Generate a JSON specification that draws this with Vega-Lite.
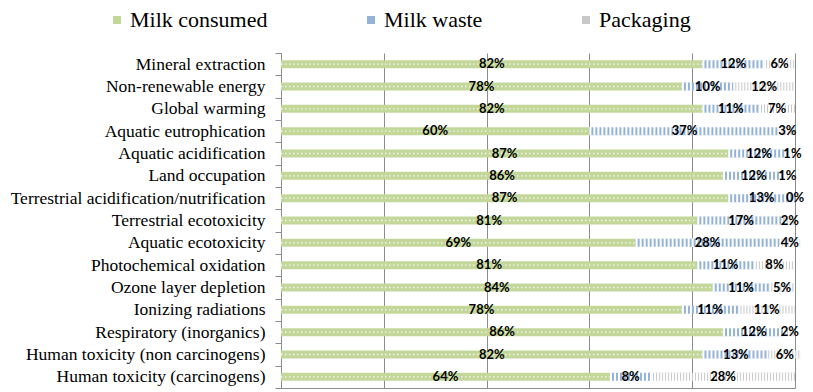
{
  "$schema": "https://vega.github.io/schema/vega-lite/v6.json",
  "width": 514,
  "height": 335,
  "autosize": "none",
  "padding": {"left": 281, "top": 53, "right": 18, "bottom": 4},
  "background": "white",
  "config": {"view": {"stroke": null}, "font": "Liberation Serif"},
  "data": {
    "values": [
      {"category": "Mineral extraction", "part": "Milk consumed", "value": 82},
      {"category": "Mineral extraction", "part": "Milk waste", "value": 12},
      {"category": "Mineral extraction", "part": "Packaging", "value": 6},
      {"category": "Non-renewable energy", "part": "Milk consumed", "value": 78},
      {"category": "Non-renewable energy", "part": "Milk waste", "value": 10},
      {"category": "Non-renewable energy", "part": "Packaging", "value": 12},
      {"category": "Global warming", "part": "Milk consumed", "value": 82},
      {"category": "Global warming", "part": "Milk waste", "value": 11},
      {"category": "Global warming", "part": "Packaging", "value": 7},
      {"category": "Aquatic eutrophication", "part": "Milk consumed", "value": 60},
      {"category": "Aquatic eutrophication", "part": "Milk waste", "value": 37},
      {"category": "Aquatic eutrophication", "part": "Packaging", "value": 3},
      {"category": "Aquatic acidification", "part": "Milk consumed", "value": 87},
      {"category": "Aquatic acidification", "part": "Milk waste", "value": 12},
      {"category": "Aquatic acidification", "part": "Packaging", "value": 1},
      {"category": "Land occupation", "part": "Milk consumed", "value": 86},
      {"category": "Land occupation", "part": "Milk waste", "value": 12},
      {"category": "Land occupation", "part": "Packaging", "value": 1},
      {"category": "Terrestrial acidification/nutrification", "part": "Milk consumed", "value": 87},
      {"category": "Terrestrial acidification/nutrification", "part": "Milk waste", "value": 13},
      {"category": "Terrestrial acidification/nutrification", "part": "Packaging", "value": 0},
      {"category": "Terrestrial ecotoxicity", "part": "Milk consumed", "value": 81},
      {"category": "Terrestrial ecotoxicity", "part": "Milk waste", "value": 17},
      {"category": "Terrestrial ecotoxicity", "part": "Packaging", "value": 2},
      {"category": "Aquatic ecotoxicity", "part": "Milk consumed", "value": 69},
      {"category": "Aquatic ecotoxicity", "part": "Milk waste", "value": 28},
      {"category": "Aquatic ecotoxicity", "part": "Packaging", "value": 4},
      {"category": "Photochemical oxidation", "part": "Milk consumed", "value": 81},
      {"category": "Photochemical oxidation", "part": "Milk waste", "value": 11},
      {"category": "Photochemical oxidation", "part": "Packaging", "value": 8},
      {"category": "Ozone layer depletion", "part": "Milk consumed", "value": 84},
      {"category": "Ozone layer depletion", "part": "Milk waste", "value": 11},
      {"category": "Ozone layer depletion", "part": "Packaging", "value": 5},
      {"category": "Ionizing radiations", "part": "Milk consumed", "value": 78},
      {"category": "Ionizing radiations", "part": "Milk waste", "value": 11},
      {"category": "Ionizing radiations", "part": "Packaging", "value": 11},
      {"category": "Respiratory (inorganics)", "part": "Milk consumed", "value": 86},
      {"category": "Respiratory (inorganics)", "part": "Milk waste", "value": 12},
      {"category": "Respiratory (inorganics)", "part": "Packaging", "value": 2},
      {"category": "Human toxicity (non carcinogens)", "part": "Milk consumed", "value": 82},
      {"category": "Human toxicity (non carcinogens)", "part": "Milk waste", "value": 13},
      {"category": "Human toxicity (non carcinogens)", "part": "Packaging", "value": 6},
      {"category": "Human toxicity (carcinogens)", "part": "Milk consumed", "value": 64},
      {"category": "Human toxicity (carcinogens)", "part": "Milk waste", "value": 8},
      {"category": "Human toxicity (carcinogens)", "part": "Packaging", "value": 28}
    ]
  },
  "transform": [
    {"stack": "value", "groupby": ["category"], "sort": [{"field": "part", "order": "ascending"}], "as": ["x0", "x1"]},
    {"calculate": "(datum.x0 + datum.x1) / 2", "as": "mid"},
    {"calculate": "datum.value + '%'", "as": "label"}
  ],
  "encoding": {
    "y": {
      "field": "category",
      "type": "nominal",
      "sort": null,
      "scale": {"paddingInner": 0, "paddingOuter": 0},
      "axis": {
        "title": null,
        "labelFont": "Liberation Serif",
        "labelFontSize": 17.5,
        "labelColor": "black",
        "labelPadding": 10,
        "labelLimit": 400,
        "tickBand": "extent",
        "tickSize": 6,
        "tickColor": "#8c8c8c",
        "domainColor": "#8c8c8c",
        "grid": false
      }
    }
  },
  "layer": [
    {
      "mark": {"type": "bar", "height": {"band": 0.36}},
      "encoding": {
        "x": {
          "field": "x0",
          "type": "quantitative",
          "scale": {"domain": [0, 100], "nice": false},
          "axis": {
            "title": null,
            "labels": false,
            "ticks": false,
            "grid": true,
            "values": [0, 20, 40, 60, 80, 100],
            "gridColor": "#8c8c8c",
            "domainColor": "#8c8c8c"
          }
        },
        "x2": {"field": "x1"},
        "color": {
          "field": "part",
          "type": "nominal",
          "scale": {
            "domain": ["Milk consumed", "Milk waste", "Packaging"],
            "range": ["#c4d79b", "#95b3d7", "#c8c8c8"]
          },
          "legend": {
            "title": null,
            "orient": "none",
            "legendX": -175,
            "legendY": -44,
            "direction": "horizontal",
            "symbolType": "square",
            "symbolSize": 64,
            "symbolStrokeWidth": 0,
            "labelFont": "Liberation Serif",
            "labelFontSize": 22,
            "labelColor": "black",
            "labelOffset": 2,
            "columnPadding": 92
          }
        }
      }
    },
    {
      "transform": [{"filter": "datum.part === 'Milk consumed'"}],
      "mark": {"type": "rule", "stroke": "white", "strokeWidth": 1.4, "strokeDash": [1.4, 2.6], "opacity": 0.85},
      "encoding": {"x": {"field": "x0", "type": "quantitative"}, "x2": {"field": "x1"}}
    },
    {
      "transform": [{"filter": "datum.part === 'Milk waste'"}],
      "mark": {"type": "rule", "stroke": "white", "strokeWidth": 8.5, "strokeDash": [2, 2]},
      "encoding": {"x": {"field": "x0", "type": "quantitative"}, "x2": {"field": "x1"}}
    },
    {
      "transform": [{"filter": "datum.part === 'Packaging'"}],
      "mark": {"type": "rule", "stroke": "white", "strokeWidth": 8.5, "strokeDash": [2, 1]},
      "encoding": {"x": {"field": "x0", "type": "quantitative"}, "x2": {"field": "x1"}}
    },
    {
      "mark": {"type": "text", "font": "Lato", "fontWeight": "bold", "fontSize": 13, "color": "black", "baseline": "middle"},
      "encoding": {
        "x": {"field": "mid", "type": "quantitative"},
        "text": {"field": "label"}
      }
    }
  ]
}
